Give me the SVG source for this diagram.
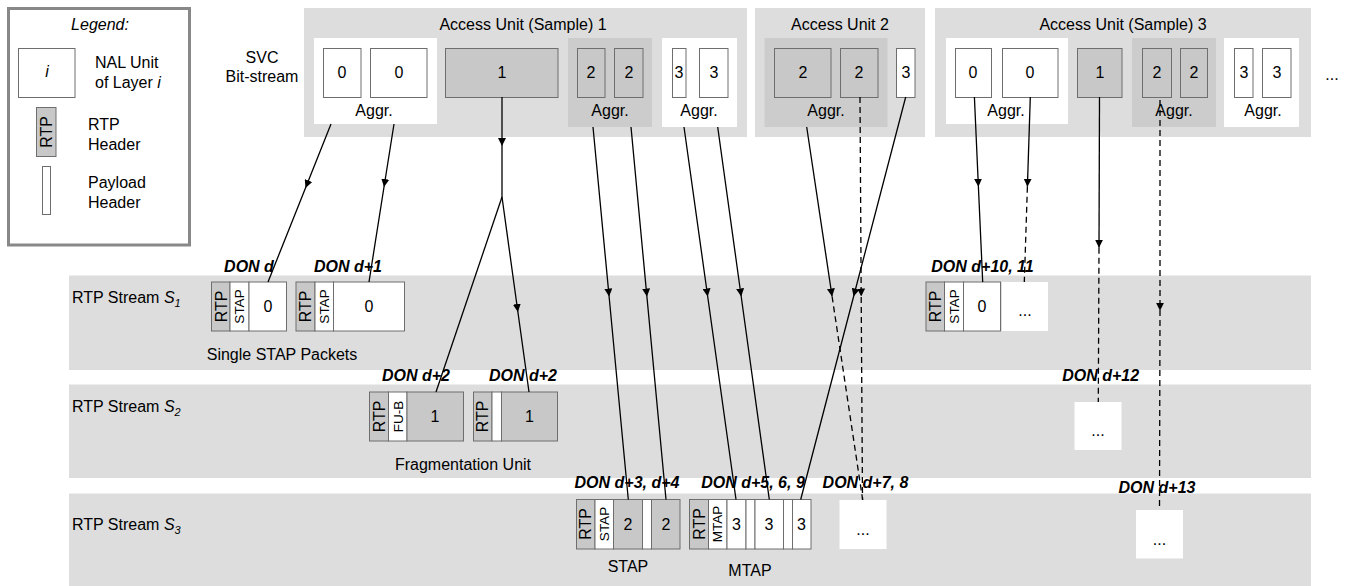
<svg xmlns="http://www.w3.org/2000/svg" width="1349" height="586" viewBox="0 0 1349 586">
<defs>
<style>
text{font-family:"Liberation Sans",Arial,sans-serif;font-size:16px;fill:#000}
.c{text-anchor:middle}
.it{font-style:italic}
.don{font-weight:bold;font-style:italic;text-anchor:middle}
.bg{fill:#dddddd}
.dk{fill:#cccccc}
.wb{fill:#fff;stroke:#6e6e6e;stroke-width:1}
.gb{fill:#c8c8c8;stroke:#6e6e6e;stroke-width:1}
.wf{fill:#fff}
.ln{fill:none;stroke:#000;stroke-width:1.3}
.ds{fill:none;stroke:#000;stroke-width:1.3;stroke-dasharray:6,4}
.r{font-size:16px;text-anchor:middle}
.s{font-size:13.5px;text-anchor:middle}
</style>
<marker id="ah" viewBox="0 0 8 8" refX="8" refY="4" markerWidth="8" markerHeight="8" markerUnits="userSpaceOnUse" orient="auto">
<path d="M0,0 L8,4 L0,8 z" fill="#000"/>
</marker>
</defs>
<rect width="1349" height="586" fill="#fff"/>

<g id="legend">
<rect x="8.5" y="8.5" width="181" height="236.5" fill="#fff" stroke="#888" stroke-width="3"/>
<text class="c it" x="100" y="30">Legend:</text>
<rect class="wb" x="18.5" y="48.5" width="56.5" height="49"/>
<text class="c it" x="47" y="77">i</text>
<text x="95" y="68">NAL Unit</text>
<text x="95" y="88">of Layer <tspan font-style="italic">i</tspan></text>
<rect class="gb" x="36.5" y="107.5" width="19.5" height="49"/>
<text class="r" transform="translate(46.3,132) rotate(-90)" y="5.6">RTP</text>
<text x="88" y="130">RTP</text>
<text x="88" y="150">Header</text>
<rect class="wb" x="42.5" y="166.5" width="8" height="48"/>
<text x="88" y="187.5">Payload</text>
<text x="88" y="207.5">Header</text>
</g>

<g id="svc-label">
<text class="c" x="262" y="63">SVC</text>
<text class="c" x="262" y="82">Bit-stream</text>
</g>

<g id="au1">
<rect class="bg" x="304" y="8" width="443" height="129"/>
<text class="c" x="523" y="30">Access Unit (Sample) 1</text>
<rect class="wf" x="314" y="38" width="123" height="86"/>
<rect class="wb" x="323.5" y="48.5" width="37.5" height="49"/>
<text class="c" x="342" y="78">0</text>
<rect class="wb" x="370.5" y="48.5" width="56.5" height="49"/>
<text class="c" x="399" y="78">0</text>
<text class="c" x="374" y="116">Aggr.</text>
<rect class="gb" x="445.5" y="48.5" width="112.5" height="49"/>
<text class="c" x="502" y="78">1</text>
<rect class="dk" x="568" y="38" width="84" height="89"/>
<rect class="gb" x="577.5" y="48.5" width="27.5" height="49"/>
<text class="c" x="591" y="78">2</text>
<rect class="gb" x="614.5" y="48.5" width="28.5" height="49"/>
<text class="c" x="629" y="78">2</text>
<text class="c" x="610" y="116">Aggr.</text>
<rect class="wf" x="662" y="38" width="75" height="89"/>
<rect class="wb" x="672.5" y="48.5" width="13.5" height="49"/>
<text class="c" x="679" y="78">3</text>
<rect class="wb" x="699.5" y="48.5" width="28.5" height="49"/>
<text class="c" x="714" y="78">3</text>
<text class="c" x="699" y="116">Aggr.</text>
</g>

<g id="au2">
<rect class="bg" x="755" y="8" width="170" height="129"/>
<text class="c" x="840" y="30">Access Unit 2</text>
<rect class="dk" x="764.5" y="38" width="123" height="89"/>
<rect class="gb" x="774.5" y="48.5" width="56.5" height="49"/>
<text class="c" x="803" y="78">2</text>
<rect class="gb" x="840.5" y="48.5" width="37.5" height="49"/>
<text class="c" x="859" y="78">2</text>
<text class="c" x="826" y="116">Aggr.</text>
<rect class="wb" x="896.5" y="48.5" width="18.5" height="49"/>
<text class="c" x="906" y="78">3</text>
</g>

<g id="au3">
<rect class="bg" x="935" y="8" width="376" height="129"/>
<text class="c" x="1123" y="30">Access Unit (Sample) 3</text>
<rect class="wf" x="946" y="38" width="122" height="86"/>
<rect class="wb" x="955.5" y="48.5" width="36" height="49"/>
<text class="c" x="973" y="78">0</text>
<rect class="wb" x="1002.5" y="48.5" width="55.5" height="49"/>
<text class="c" x="1030" y="78">0</text>
<text class="c" x="1006" y="116">Aggr.</text>
<rect class="gb" x="1077.5" y="48.5" width="44.5" height="49"/>
<text class="c" x="1100" y="78">1</text>
<rect class="dk" x="1132" y="38" width="84" height="89"/>
<rect class="gb" x="1142.5" y="48.5" width="29" height="49"/>
<text class="c" x="1157" y="78">2</text>
<rect class="gb" x="1180.5" y="48.5" width="27" height="49"/>
<text class="c" x="1194" y="78">2</text>
<text class="c" x="1174" y="116">Aggr.</text>
<rect class="wf" x="1224" y="38" width="75" height="89"/>
<rect class="wb" x="1234.5" y="48.5" width="18.5" height="49"/>
<text class="c" x="1244" y="78">3</text>
<rect class="wb" x="1262.5" y="48.5" width="28.5" height="49"/>
<text class="c" x="1277" y="78">3</text>
<text class="c" x="1263" y="116">Aggr.</text>
</g>

<g id="more-au">
<text class="c" x="1332" y="80">...</text>
</g>

<g id="stream-s1">
<rect class="bg" x="69" y="275.5" width="1242" height="94.5"/>
<text x="72" y="303">RTP Stream <tspan font-style="italic">S</tspan><tspan font-style="italic" font-size="11" dy="4">1</tspan></text>
</g>
<g id="stream-s2">
<rect class="bg" x="69" y="384.5" width="1242" height="93.5"/>
<text x="72" y="412">RTP Stream <tspan font-style="italic">S</tspan><tspan font-style="italic" font-size="11" dy="4">2</tspan></text>
</g>
<g id="stream-s3">
<rect class="bg" x="69" y="493.5" width="1242" height="92.5"/>
<text x="72" y="529.5">RTP Stream <tspan font-style="italic">S</tspan><tspan font-style="italic" font-size="11" dy="4">3</tspan></text>
</g>

<g id="pkt-s1-a">
<rect class="gb" x="211.5" y="282" width="18.5" height="49"/>
<text class="r" transform="translate(221,306.5) rotate(-90)" y="5.6">RTP</text>
<rect class="wb" x="230" y="282" width="19" height="49"/>
<text class="s" transform="translate(239.5,306.5) rotate(-90)" y="4.8">STAP</text>
<rect class="wb" x="249" y="282" width="37.5" height="49"/>
<text class="c" x="268" y="311.5">0</text>
</g>
<g id="pkt-s1-b">
<rect class="gb" x="296" y="282" width="19" height="49"/>
<text class="r" transform="translate(305.5,306.5) rotate(-90)" y="5.6">RTP</text>
<rect class="wb" x="315" y="282" width="18.5" height="49"/>
<text class="s" transform="translate(324.3,306.5) rotate(-90)" y="4.8">STAP</text>
<rect class="wb" x="333.5" y="282" width="71" height="49"/>
<text class="c" x="369" y="311.5">0</text>
</g>
<g id="label-single-stap">
<text class="c" x="282" y="359.5">Single STAP Packets</text>
</g>

<g id="pkt-s1-c">
<rect class="gb" x="926" y="282" width="18.5" height="49"/>
<text class="r" transform="translate(935.3,306.5) rotate(-90)" y="5.6">RTP</text>
<rect class="wb" x="944.5" y="282" width="19" height="49"/>
<text class="s" transform="translate(954,306.5) rotate(-90)" y="4.8">STAP</text>
<rect class="wb" x="963.5" y="282" width="37" height="49"/>
<text class="c" x="982" y="311.5">0</text>
<rect class="wf" x="1002" y="282" width="46" height="49"/>
<text class="c" x="1025" y="316">...</text>
</g>

<g id="pkt-s2-fu1">
<rect class="gb" x="369.5" y="392" width="19" height="49"/>
<text class="r" transform="translate(379,416.5) rotate(-90)" y="5.6">RTP</text>
<rect class="wb" x="388.5" y="392" width="18.5" height="49"/>
<text class="s" transform="translate(397.8,416.5) rotate(-90)" y="4.8" font-size="14.5">FU-B</text>
<rect class="gb" x="407" y="392" width="56.5" height="49"/>
<text class="c" x="435" y="421.5">1</text>
</g>
<g id="pkt-s2-fu2">
<rect class="gb" x="473.5" y="392" width="18.5" height="49"/>
<text class="r" transform="translate(482.8,416.5) rotate(-90)" y="5.6">RTP</text>
<rect class="wb" x="492" y="392" width="9.5" height="49"/>
<rect class="gb" x="501.5" y="392" width="56" height="49"/>
<text class="c" x="529.5" y="421.5">1</text>
</g>
<g id="label-fu">
<text class="c" x="463" y="469.5">Fragmentation Unit</text>
</g>

<g id="pkt-s2-more">
<rect class="wf" x="1074.5" y="402" width="47" height="48"/>
<text class="c" x="1098" y="436">...</text>
</g>

<g id="pkt-s3-stap">
<rect class="gb" x="576.5" y="499.5" width="18.5" height="49.5"/>
<text class="r" transform="translate(585.8,524) rotate(-90)" y="5.6">RTP</text>
<rect class="wb" x="595" y="499.5" width="18.5" height="49.5"/>
<text class="s" transform="translate(604.3,524) rotate(-90)" y="4.8">STAP</text>
<rect class="gb" x="613.5" y="499.5" width="29" height="49.5"/>
<text class="c" x="628" y="530">2</text>
<rect class="wb" x="642.5" y="499.5" width="9" height="49.5"/>
<rect class="gb" x="651.5" y="499.5" width="28.5" height="49.5"/>
<text class="c" x="666" y="530">2</text>
</g>
<g id="label-stap">
<text class="c" x="628" y="571.5">STAP</text>
</g>

<g id="pkt-s3-mtap">
<rect class="gb" x="689.5" y="499.5" width="19" height="49.5"/>
<text class="r" transform="translate(699,524) rotate(-90)" y="5.6">RTP</text>
<rect class="wb" x="708.5" y="499.5" width="18.5" height="49.5"/>
<text class="s" transform="translate(717.8,524) rotate(-90)" y="4" font-size="11.5">MTAP</text>
<rect class="wb" x="727" y="499.5" width="19" height="49.5"/>
<text class="c" x="736.5" y="530">3</text>
<rect class="wb" x="746" y="499.5" width="9" height="49.5"/>
<rect class="wb" x="755" y="499.5" width="28.5" height="49.5"/>
<text class="c" x="769" y="530">3</text>
<rect class="wb" x="783.5" y="499.5" width="9" height="49.5"/>
<rect class="wb" x="792.5" y="499.5" width="18.5" height="49.5"/>
<text class="c" x="801.5" y="530">3</text>
</g>
<g id="label-mtap">
<text class="c" x="750" y="575.5">MTAP</text>
</g>

<g id="pkt-s3-more1">
<rect class="wf" x="839.5" y="500" width="47" height="49"/>
<text class="c" x="863" y="535">...</text>
</g>
<g id="pkt-s3-more2">
<rect class="wf" x="1136" y="510" width="47" height="48.5"/>
<text class="c" x="1159.5" y="545">...</text>
</g>

<g id="connectors">
<path class="ln" d="M331,124 L305.5,188 L268,282" marker-mid="url(#ah)"/>
<path class="ln" d="M394,124 L384,187 L369,282" marker-mid="url(#ah)"/>
<path class="ln" d="M502,97 L502,146 L502,197" marker-mid="url(#ah)"/>
<path class="ln" d="M502,197 L436,392"/>
<path class="ln" d="M502,197 L517.9,312 L529,392" marker-mid="url(#ah)"/>
<path class="ln" d="M593,127 L609.1,296.5 L628.3,499.5" marker-mid="url(#ah)"/>
<path class="ln" d="M631,127 L646.9,296.5 L666,499.5" marker-mid="url(#ah)"/>
<path class="ln" d="M684,127 L707.7,296.5 L736,499.5" marker-mid="url(#ah)"/>
<path class="ln" d="M717.7,127 L741.2,296.5 L769.3,499.5" marker-mid="url(#ah)"/>
<path class="ln" d="M806.7,127 L832.1,296.5" marker-end="url(#ah)"/>
<path class="ds" d="M832.1,296.5 L862.7,500"/>
<path class="ds" d="M860,97 L861.2,296.5 L862.5,500" marker-mid="url(#ah)"/>
<path class="ln" d="M905.7,97 L853.6,296.5 L800.7,499.5" marker-mid="url(#ah)"/>
<path class="ln" d="M974.4,97 L978.4,186.7 L982.7,282" marker-mid="url(#ah)"/>
<path class="ln" d="M1030.3,97 L1027.4,186.7" marker-end="url(#ah)"/>
<path class="ds" d="M1027.4,186.7 L1024.3,282"/>
<path class="ln" d="M1099.5,97 L1099,247.7" marker-end="url(#ah)"/>
<path class="ds" d="M1099,247.7 L1098.3,402"/>
<path class="ds" d="M1160,100 L1160,310.7 L1159.5,510" marker-mid="url(#ah)"/>
</g>

<g id="don-labels">
<text class="don" x="249" y="271.5">DON d</text>
<text class="don" x="348" y="271.5">DON d+1</text>
<text class="don" x="416" y="381">DON d+2</text>
<text class="don" x="523" y="381">DON d+2</text>
<text class="don" x="627" y="487.5">DON d+3, d+4</text>
<text class="don" x="753" y="487.5">DON d+5, 6, 9</text>
<text class="don" x="865.5" y="487.5">DON d+7, 8</text>
<text class="don" x="982.5" y="271.5">DON d+10, 11</text>
<text class="don" x="1100.7" y="381">DON d+12</text>
<text class="don" x="1157" y="493">DON d+13</text>
</g>
</svg>
